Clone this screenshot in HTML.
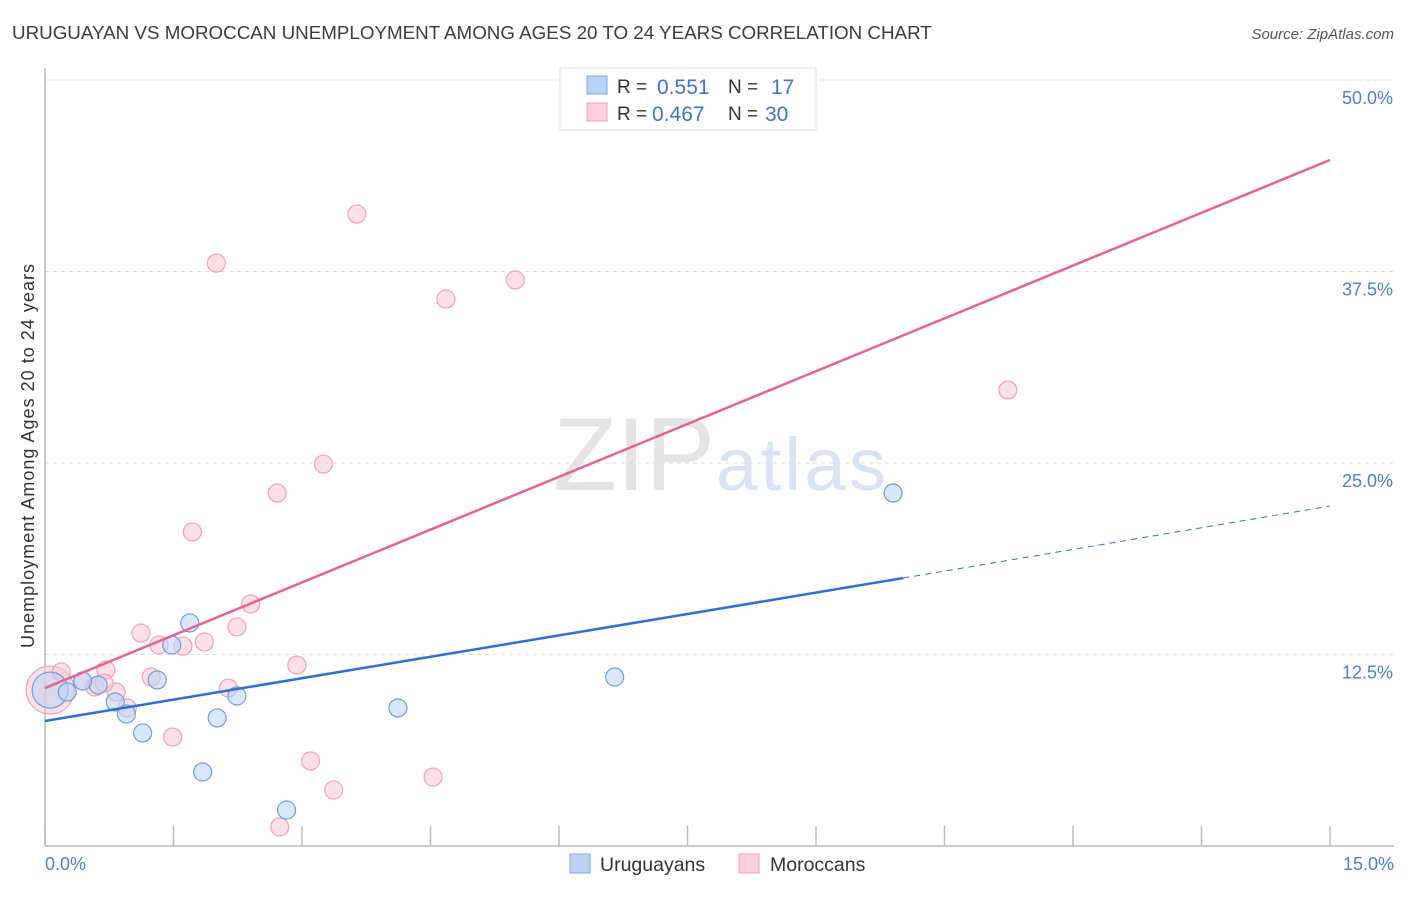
<!DOCTYPE html>
<html><head><meta charset="utf-8"><style>
body{margin:0;background:#fff;font-family:"Liberation Sans",sans-serif}
svg text{font-family:"Liberation Sans",sans-serif}
</style></head><body>
<svg width="1406" height="892" xmlns="http://www.w3.org/2000/svg">
<text x="12" y="39" font-size="18.8" fill="#3c3c3c">URUGUAYAN VS MOROCCAN UNEMPLOYMENT AMONG AGES 20 TO 24 YEARS CORRELATION CHART</text>
<text x="1394" y="39" font-size="15" fill="#555" font-style="italic" text-anchor="end">Source: ZipAtlas.com</text>
<text x="715" y="490" font-size="104" fill="#e4e4e4" text-anchor="end" font-family="Liberation Serif">ZIP</text>
<text x="716" y="490" font-size="74" fill="#d6e4f5" textLength="170">atlas</text>
<g id="grid"></g>
<g id="axes"></g>
<text transform="translate(34,456) rotate(-90)" font-size="18" fill="#333" text-anchor="middle" textLength="384">Unemployment Among Ages 20 to 24 years</text>
<text x="45" y="870" font-size="18" fill="#4a7fd4">0.0%</text>
<text x="1394" y="870" font-size="18" fill="#4a7fd4" text-anchor="end">15.0%</text>
<g id="marks"></g>
<g id="lines"></g>
<g>
<rect x="560" y="68" width="256" height="62" fill="#fff" stroke="#ddd"/>
<rect x="587" y="76" width="20" height="18" fill="#b9d3f5" stroke="#7fa8e0"/>
<rect x="587" y="103" width="20" height="18" fill="#fbd0dc" stroke="#f0a0b8"/>
<text x="617" y="93" font-size="19" fill="#333">R =</text>
<text x="657" y="94" font-size="21" fill="#3a74d0">0.551</text>
<text x="728" y="93" font-size="19" fill="#333">N =</text>
<text x="771" y="94" font-size="21" fill="#3a74d0">17</text>
<text x="617" y="120" font-size="19" fill="#333">R =</text>
<text x="652" y="121" font-size="21" fill="#3a74d0">0.467</text>
<text x="728" y="120" font-size="19" fill="#333">N =</text>
<text x="765" y="121" font-size="21" fill="#3a74d0">30</text>
</g>
<g>
<rect x="570" y="854" width="20" height="19" fill="#b9d3f5" stroke="#7fa8e0"/>
<text x="600" y="871" font-size="19.5" fill="#333">Uruguayans</text>
<rect x="739" y="854" width="20" height="19" fill="#fbd0dc" stroke="#f0a0b8"/>
<text x="770" y="871" font-size="19.5" fill="#333">Moroccans</text>
</g>
</svg>
<script>
const yTicks=[12.5,25,37.5,50];
const yTickLabels=["12.5%","25.0%","37.5%","50.0%"];
const xTicks=[0,1.5,3,4.5,6,7.5,9,10.5,12,13.5,15];
const uruX=[0.06,0.26,0.62,0.82,0.95,1.14,1.31,1.48,1.69,1.84,2.01,2.24,2.82,4.12,6.65,9.90,0.44];
const uruY=[10.18,10.05,10.51,9.40,8.62,7.38,10.84,13.12,14.56,4.83,8.36,9.79,2.35,9.01,11.03,23.04,10.77];
const morX=[0.06,0.19,0.44,0.58,0.71,0.83,0.96,1.12,1.24,1.33,1.61,1.49,1.86,2.24,2.40,2.14,2.74,2.94,3.10,3.37,1.72,2.00,2.71,3.25,3.64,4.68,5.49,4.53,11.24,0.69];
const morY=[10.18,11.36,10.77,10.38,11.49,10.05,9.01,13.90,11.03,13.12,13.05,7.11,13.32,14.30,15.80,10.31,1.24,11.81,5.55,3.66,20.50,38.05,23.04,24.93,41.25,35.70,36.95,4.50,29.77,10.64];
const uruTrend=[8.16,17.49,10.02,22.19];
const morTrend=[10.31,44.78];
const NS="http://www.w3.org/2000/svg";
const sx=v=>45+v/15*1285;
const sy=v=>846-v*15.32;
function mk(t,a,p){const e=document.createElementNS(NS,t);for(const k in a)e.setAttribute(k,a[k]);p.appendChild(e);return e;}
const grid=document.getElementById('grid'),axes=document.getElementById('axes'),marks=document.getElementById('marks'),lines=document.getElementById('lines');
yTicks.forEach((t,i)=>{
 const l=mk('line',{x1:45,x2:1394,y1:sy(t),y2:sy(t),stroke:'#ddd','stroke-dasharray':'4,4'},grid);
 
 
 const tx=mk('text',{x:1393,y:sy(t)+24,'font-size':18,fill:'#4a7fd4','text-anchor':'end'},grid);
 tx.textContent=yTickLabels[i];
 
 
});
const ax=mk('line',{x1:45,x2:45,y1:68,y2:846,stroke:'#bbb','stroke-width':1.5},axes);


const bx=mk('line',{x1:45,x2:1394,y1:846,y2:846,stroke:'#bbb','stroke-width':1.5},axes);


xTicks.forEach(t=>{const e=mk('line',{x1:sx(t),x2:sx(t),y1:826,y2:846,stroke:'#bbb','stroke-width':1.5},axes);
 
 });
function pts(X,Y,fill,stroke,name,bigR){X.forEach((x,i)=>{const big=i===0;
 const c=mk('circle',{cx:sx(x),cy:sy(Y[i]),r:big?bigR:9,fill:fill,'fill-opacity':0.55,stroke:stroke,'stroke-width':1.2},marks);
 
 });}
pts(morX,morY,'#f9c6d4','#f0a0b8','moroccan-point',24);
pts(uruX,uruY,'#b9d3f5','#6a9ee0','uruguayan-point',18);
const pl=mk('line',{x1:sx(0),y1:sy(morTrend[0]),x2:sx(15),y2:sy(morTrend[1]),stroke:'#e8628e','stroke-width':2.5},lines);


const bl=mk('line',{x1:sx(0),y1:sy(uruTrend[0]),x2:sx(uruTrend[2]),y2:sy(uruTrend[1]),stroke:'#2a6fd6','stroke-width':2.5},lines);


const bd=mk('line',{x1:sx(uruTrend[2]),y1:sy(uruTrend[1]),x2:sx(15),y2:sy(uruTrend[3]),stroke:'#2a6fd6','stroke-width':1,'stroke-dasharray':'6,5'},lines);


</script>
</body></html>
